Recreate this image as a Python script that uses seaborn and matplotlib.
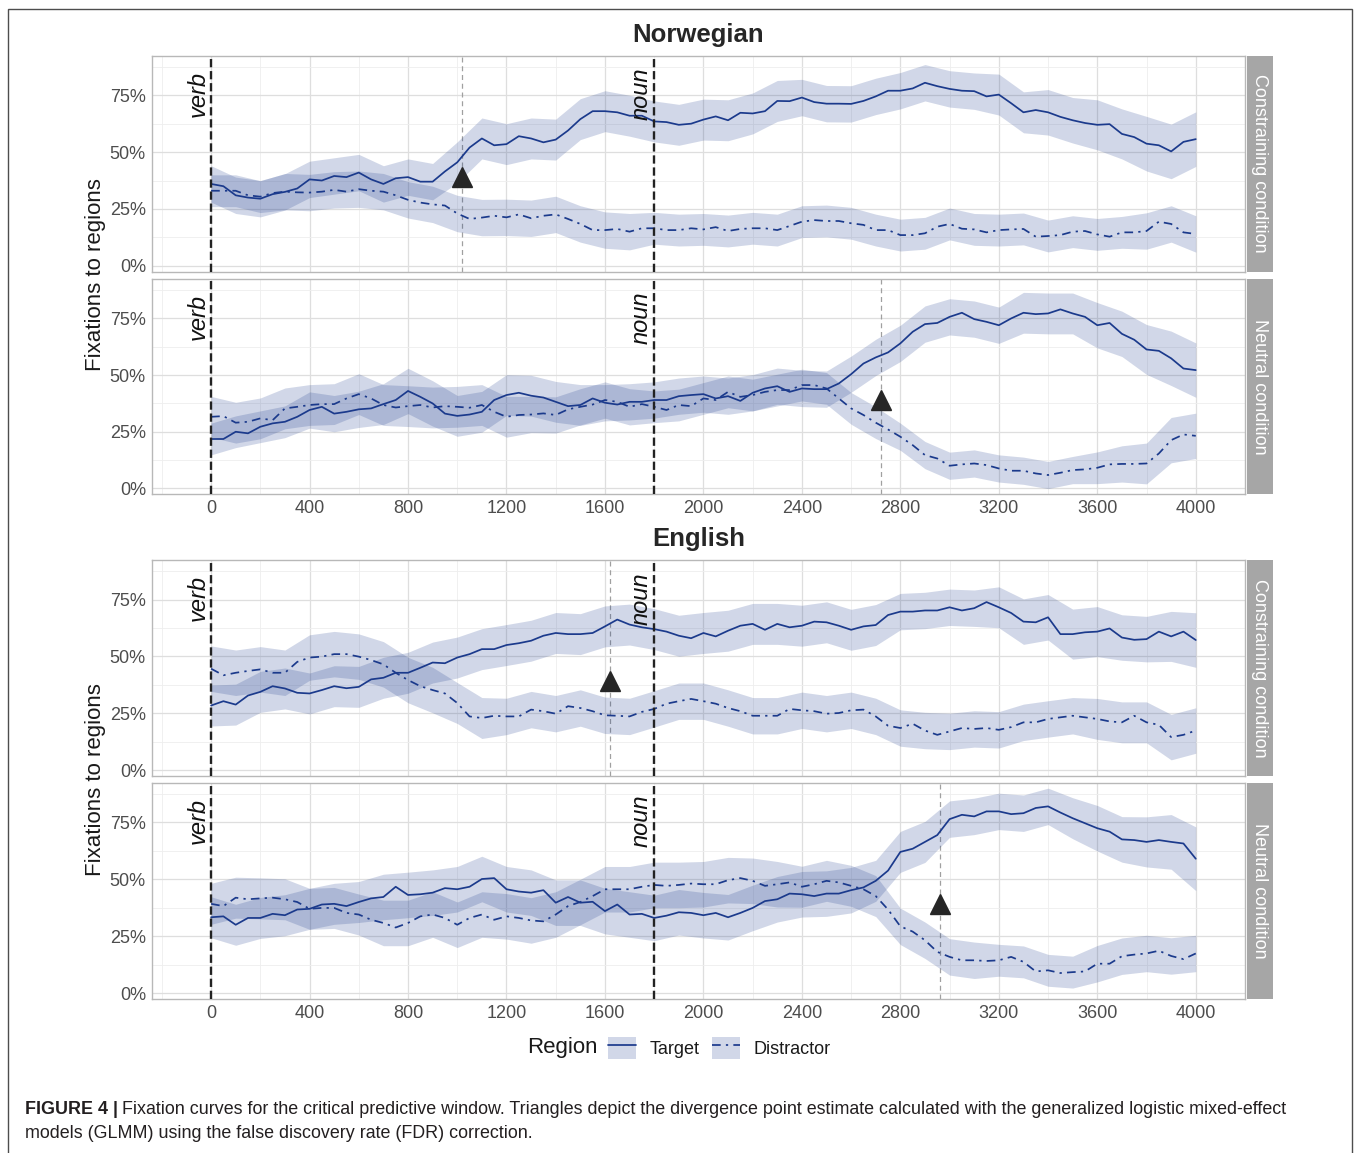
import numpy as np
import pandas as pd
import matplotlib
matplotlib.use("Agg")
import matplotlib.pyplot as plt
import seaborn as sns
from matplotlib.patches import Rectangle, Patch
from matplotlib.lines import Line2D
from matplotlib.ticker import FixedLocator
from matplotlib.legend_handler import HandlerTuple

# ---------------------------------------------------------------- data
# time bins (ms after verb onset) for the fixation curves
TIME = list(range(0, 4001, 50))
# coarser bins used for the confidence ribbons
RIBBON_TIME = list(range(0, 4001, 100))

LANGUAGES = ["Norwegian", "English"]
CONDITIONS = ["Constraining condition", "Neutral condition"]
REGIONS = ["Target", "Distractor"]

# proportion of fixations (%), Norwegian / constraining
NO_CON_TARGET = [36, 35, 31, 30, 29.5, 31.5, 32.5, 34, 38, 37.5, 39.5, 39, 41, 38, 36, 38.5, 39, 37, 37, 41.5,
                 45.5, 52, 56, 53, 53.5, 57, 56, 54.3, 55.5, 59.5, 64.5, 68, 68, 67.5, 66, 66, 63.5, 63.2, 62, 62.5,
                 64.3, 65.7, 64, 67.3, 67, 68, 72.5, 72.4, 74, 72, 71.3, 71.3, 71.2, 72.5, 74.5, 77, 77, 78, 80.5, 79,
                 77.8, 77, 76.8, 74.5, 75.3, 71.5, 67.5, 68.5, 67.5, 65.5, 64, 62.8, 62, 62.3, 58, 56.6, 53.7, 53, 50.3, 54.5,
                 55.7]
NO_CON_DISTRACTOR = [33, 33, 33, 31, 30.4, 32, 32.6, 32.3, 32.2, 32.6, 33.4, 32.6, 33.7, 33, 32.6, 31, 29, 27.8, 27, 26.5,
                     23, 20.6, 21.2, 22, 21.3, 22.6, 20.9, 22, 22.6, 20.6, 18.4, 15.7, 15.7, 16.2, 15, 16.5, 16.5, 15.7, 15.7, 16.5,
                     16, 17, 15.3, 16.2, 16.5, 16.5, 15.7, 17.5, 19.4, 20.1, 19.7, 19.7, 18.7, 18, 15.7, 15.7, 13.5, 13.5, 14.3, 17.2,
                     18.4, 16.3, 16, 14.7, 15.7, 16, 16.2, 12.8, 13.1, 13.5, 15, 15.3, 13.8, 12.8, 14.7, 14.7, 15.3, 19.4, 18.4, 14.7,
                     14]

# Norwegian / neutral
NO_NEU_TARGET = [21.8, 21.8, 25, 24.3, 27.2, 28.7, 29.4, 31.6, 34.6, 36, 33, 33.8, 34.9, 35.3, 37.2, 39, 43, 40.4, 37.5, 33,
                 32, 32.6, 33.8, 39, 41.2, 42.2, 40.9, 40.1, 38.2, 36.3, 36.8, 39.7, 37.8, 37, 38.2, 38.2, 39, 39, 40.7, 41.2,
                 41.6, 39.7, 40.7, 38.6, 42.2, 44.1, 45.1, 42.6, 44.1, 43.8, 43.8, 46.3, 50.4, 55.1, 57.8, 60, 64, 69.1, 72.5, 73,
                 75.7, 77.5, 74.7, 73.5, 72, 75, 77.5, 76.9, 77.2, 79, 77.2, 75.7, 72, 73, 68.2, 65.6, 61.3, 60.7, 57.4, 52.9,
                 52.2]
NO_NEU_DISTRACTOR = [31.6, 31.9, 29, 29.4, 30.9, 30.1, 35.3, 36, 36.8, 37.2, 37.2, 39.7, 41.6, 39.7, 36.8, 35.7, 36.3, 36.8, 35.7, 36.3,
                     36, 35.6, 36.8, 33.8, 31.6, 32.4, 32.6, 33.1, 32.4, 34.9, 36, 37, 39, 38.2, 36, 37.2, 36, 34.6, 36.8, 36.3,
                     39.7, 39, 42.6, 40.4, 41.2, 42.6, 43.4, 43.4, 45.6, 45.6, 44.1, 39.7, 35.3, 32.4, 29, 26, 22.8, 19.1, 14.7, 13.2,
                     10, 10.6, 11, 10.3, 8.8, 7.8, 7.8, 6.6, 5.9, 6.9, 8.1, 8.4, 9.1, 10.6, 10.8, 10.8, 11, 15.4, 21.3, 23.8,
                     23.2]

# English / constraining
EN_CON_TARGET = [28.4, 30.3, 28.8, 32.8, 34.4, 36.9, 35.9, 34, 33.7, 35.2, 36.9, 36, 36.6, 39.9, 40.6, 42.8, 42.8, 45, 47.3, 47,
                 49.5, 51, 53.2, 53.2, 55, 55.8, 56.9, 59.1, 60.3, 59.8, 59.8, 60.3, 63.2, 66.2, 64, 62.8, 62, 60.9, 59.1, 58,
                 60.3, 58.8, 61.3, 63.5, 64.3, 61.7, 64.3, 62.8, 63.5, 65.3, 65, 63.5, 61.7, 63.2, 63.8, 68.2, 69.7, 69.7, 70.2, 70.2,
                 71.6, 70.2, 71.2, 73.9, 71.6, 69.1, 65.3, 65, 67.2, 59.8, 59.8, 60.6, 60.9, 62.3, 58.3, 57.3, 57.6, 60.9, 58.8, 60.9,
                 57.2]
EN_CON_DISTRACTOR = [44.6, 41.7, 42.8, 43.6, 44.3, 42.8, 42.8, 47.6, 49.5, 49.9, 51, 51, 49.9, 48.4, 46.5, 42.8, 39.6, 36.9, 35.2, 33.7,
                     29.5, 23.6, 22.9, 23.9, 23.6, 23.6, 26.6, 25.9, 24.8, 28.1, 27.3, 25.9, 24.1, 23.9, 23.6, 25.6, 26.9, 29.2, 30.3, 31.3,
                     30.3, 29.2, 27.3, 25.9, 23.9, 23.9, 23.9, 26.9, 26.3, 25.9, 24.8, 25.1, 26.3, 26.6, 23.6, 19.5, 18.5, 20.4, 17.4, 15.5,
                     17, 18.5, 18.1, 18.5, 17.7, 18.9, 21, 21, 22.5, 23.2, 23.9, 23.2, 22.5, 21.4, 21, 23.9, 21, 19.9, 14.5, 15.5,
                     17.4]

# English / neutral
EN_NEU_TARGET = [33.3, 33.7, 30, 33, 33, 34.8, 34.2, 36.7, 37, 38.9, 39.2, 38.2, 40, 41.6, 42.2, 46.7, 43.1, 43.4, 44.1, 46.1,
                 45.6, 46.7, 50.1, 50.5, 45.6, 44.6, 44.1, 45.2, 39.7, 42.2, 39.7, 40.1, 36, 38.9, 34.5, 34.8, 33, 34, 35.5, 35.2,
                 34.2, 35.2, 33.3, 35.2, 37.4, 40.4, 41.2, 43.7, 43.4, 42.6, 43.7, 43.7, 45.2, 46.4, 49.3, 53.8, 62, 63.4, 66.4, 69.4,
                 76.4, 78.3, 77.6, 79.8, 79.8, 78.6, 79, 81.3, 82, 79.3, 76.8, 74.6, 72.4, 70.9, 67.5, 67.2, 66.4, 67.2, 66.4, 65.7,
                 59]
EN_NEU_DISTRACTOR = [39.2, 38.2, 41.9, 41.2, 41.6, 41.9, 41.2, 40, 37, 37.4, 37.4, 35.2, 34.5, 32.2, 30.8, 28.8, 30.8, 33.7, 34.5, 33,
                     30, 33, 34.5, 32.2, 33.7, 33, 31.9, 31.5, 34.5, 38.2, 40, 42.6, 45.6, 45.6, 45.6, 46.7, 47.5, 47.1, 47.5, 48.1,
                     47.8, 47.8, 49.6, 50.5, 49.3, 47.1, 47.8, 48.6, 46.7, 47.8, 49.3, 48.6, 47.1, 45.6, 42.6, 36.7, 29.3, 27, 23.2, 18.1,
                     15.9, 14.4, 14.4, 14.1, 14.4, 15.9, 13.7, 9.5, 10, 8.8, 9.2, 9.5, 12.9, 12.9, 16.2, 16.9, 17.4, 18.6, 16.3, 14.9,
                     17.4]

# half-width of the 95% confidence ribbons (percentage points), one value per 100 ms
NO_CON_TARGET_CI = [8, 8, 8, 8, 8, 8, 8, 8, 8, 8, 9, 9, 9, 9, 9, 9, 9, 9, 9, 9,
                    9, 9, 9, 9, 8, 8, 8, 8, 8, 8, 8, 8, 9, 9, 10, 10, 11, 11, 12, 12, 12]
NO_CON_DISTRACTOR_CI = [7, 7, 7, 8, 8, 8, 8, 8, 8, 8, 8, 8, 8, 8, 8, 8, 8, 8, 7, 7,
                        7, 7, 7, 7, 7, 7, 7, 7, 7, 7, 7, 7, 7, 7, 7, 7, 7, 7, 8, 8, 8]
NO_NEU_TARGET_CI = [7, 7, 7, 7, 8, 8, 8, 9, 10, 10, 9, 9, 9, 9, 9, 9, 8, 8, 8, 8,
                    8, 8, 8, 8, 8, 8, 8, 8, 8, 8, 8, 8, 8, 9, 9, 9, 10, 10, 11, 12, 12]
NO_NEU_DISTRACTOR_CI = [9, 9, 9, 9, 9, 9, 9, 9, 9, 9, 9, 9, 9, 8, 8, 8, 8, 8, 7, 7,
                        7, 7, 7, 7, 7, 7, 7, 7, 6, 6, 6, 6, 6, 6, 6, 6, 7, 8, 9, 10, 10]
EN_CON_TARGET_CI = [9, 9, 9, 9, 9, 9, 9, 9, 9, 9, 9, 9, 9, 9, 9, 9, 9, 9, 9, 9,
                    9, 9, 9, 9, 9, 9, 9, 9, 8, 8, 8, 8, 9, 10, 10, 11, 11, 10, 10, 11, 12]
EN_CON_DISTRACTOR_CI = [10, 10, 10, 10, 10, 10, 10, 10, 10, 10, 9, 9, 8, 8, 8, 8, 8, 8, 8, 8,
                        8, 8, 8, 8, 8, 8, 8, 8, 8, 8, 8, 8, 8, 8, 8, 8, 9, 9, 9, 10, 10]
EN_NEU_TARGET_CI = [9, 9, 9, 9, 9, 9, 9, 10, 10, 10, 10, 10, 10, 10, 10, 10, 10, 10, 10, 10,
                    10, 10, 10, 10, 10, 10, 10, 9, 9, 9, 8, 8, 8, 8, 8, 9, 10, 10, 11, 12, 14]
EN_NEU_DISTRACTOR_CI = [9, 9, 9, 9, 9, 9, 9, 10, 10, 10, 10, 10, 10, 10, 10, 10, 10, 10, 10, 10,
                        10, 10, 10, 10, 9, 9, 9, 9, 8, 8, 8, 8, 7, 7, 7, 7, 8, 8, 8, 8, 8]

# divergence point estimates (ms)
DIVERGENCE = {("Norwegian", "Constraining condition"): 1020,
              ("Norwegian", "Neutral condition"): 2720,
              ("English", "Constraining condition"): 1620,
              ("English", "Neutral condition"): 2960}
DIVERGENCE_Y = 0.39

# word onsets (ms)
ONSETS = {"verb": 0, "noun": 1800}

SERIES = {
    ("Norwegian", "Constraining condition"): (NO_CON_TARGET, NO_CON_DISTRACTOR, NO_CON_TARGET_CI, NO_CON_DISTRACTOR_CI),
    ("Norwegian", "Neutral condition"): (NO_NEU_TARGET, NO_NEU_DISTRACTOR, NO_NEU_TARGET_CI, NO_NEU_DISTRACTOR_CI),
    ("English", "Constraining condition"): (EN_CON_TARGET, EN_CON_DISTRACTOR, EN_CON_TARGET_CI, EN_CON_DISTRACTOR_CI),
    ("English", "Neutral condition"): (EN_NEU_TARGET, EN_NEU_DISTRACTOR, EN_NEU_TARGET_CI, EN_NEU_DISTRACTOR_CI),
}

# long-format table for seaborn
rows = []
for (lang, cond), (tgt, dis, _, _) in SERIES.items():
    for region, vals in zip(REGIONS, (tgt, dis)):
        for t, v in zip(TIME, vals):
            rows.append({"Language": lang, "Condition": cond, "Region": region, "Time": t, "Prop": v / 100})
df = pd.DataFrame(rows)

# ---------------------------------------------------------------- style
sns.set_theme(style="whitegrid")
plt.rcParams["font.family"] = ["Liberation Sans", "DejaVu Sans"]

LINE = "#1B3A8C"
DASHES = {"Target": "", "Distractor": (5, 3, 1.3, 3)}
W, H = 1360, 1153

fig = plt.figure(figsize=(W / 100, H / 100), dpi=100)

LEFT, RIGHT = 152, 1245
PANELS = [("Norwegian", "Constraining condition", 55.7, 271.7, False),
          ("Norwegian", "Neutral condition", 279.0, 494.3, True),
          ("English", "Constraining condition", 560.0, 776.0, False),
          ("English", "Neutral condition", 782.7, 999.0, True)]

for lang, cond, top, bottom, show_x in PANELS:
    ax = fig.add_axes([LEFT / W, 1 - bottom / H, (RIGHT - LEFT) / W, (bottom - top) / H])
    tgt, dis, tgt_ci, dis_ci = SERIES[(lang, cond)]

    # confidence ribbons
    for vals, ci in ((tgt, tgt_ci), (dis, dis_ci)):
        centre = np.array(vals[::2]) / 100
        half = np.array(ci) / 100
        ax.fill_between(RIBBON_TIME, centre - half, centre + half, color=LINE, alpha=0.2, lw=0, zorder=2)

    sub = df[(df.Language == lang) & (df.Condition == cond)]
    sns.lineplot(data=sub, x="Time", y="Prop", style="Region", style_order=REGIONS,
                 dashes=DASHES, color=LINE, lw=1.25, errorbar=None, legend=False, ax=ax, zorder=3)

    # word onsets
    for word, t0 in ONSETS.items():
        ax.axvline(t0, color="#222222", lw=1.7, ls=(0, (3.5, 1.6)), zorder=4)
        ax.text(t0 - 6, 0.755, word, rotation=90, ha="right", va="center",
                style="italic", fontsize=17, color="#111111", zorder=5)

    # divergence point
    dp = DIVERGENCE[(lang, cond)]
    ax.axvline(dp, color="#A0A0A0", lw=0.9, ls=(0, (4, 3)), zorder=1.5)
    ax.plot([dp], [DIVERGENCE_Y], marker="^", ms=15, color="#262626", ls="none", zorder=6)

    ax.set_xlim(-240, 4200)
    ax.set_ylim(-0.026, 0.924)
    ax.xaxis.set_major_locator(FixedLocator(list(range(0, 4001, 400))))
    ax.xaxis.set_minor_locator(FixedLocator(list(range(-200, 4200, 400))))
    ax.yaxis.set_major_locator(FixedLocator([0, 0.25, 0.5, 0.75]))
    ax.yaxis.set_minor_locator(FixedLocator([0.125, 0.375, 0.625, 0.875]))
    ax.set_yticklabels(["0%", "25%", "50%", "75%"])
    ax.grid(which="major", color="#DEDEDE", lw=0.9)
    ax.grid(which="minor", color="#EEEEEE", lw=0.6)
    ax.set_axisbelow(True)
    ax.set_xlabel("")
    ax.set_ylabel("")
    for sp in ax.spines.values():
        sp.set_color("#B8B8B8")
        sp.set_linewidth(1.0)
    ax.tick_params(axis="both", which="major", length=2.9, width=0.8, color="#B3B3B3",
                   labelsize=13, labelcolor="#4D4D4D", pad=1.5)
    ax.tick_params(axis="both", which="minor", length=0)
    if not show_x:
        ax.tick_params(axis="x", which="major", length=0, labelbottom=False)

    # facet strip
    ax.add_patch(Rectangle((1.0018, 0), 0.0238, 1, transform=ax.transAxes,
                           clip_on=False, facecolor="#A6A6A6", edgecolor="none"))
    ax.text(1.0137, 0.5, cond, transform=ax.transAxes, rotation=-90, ha="center", va="center",
            fontsize=13, color="white")

# titles and axis labels
for lang, y in (("Norwegian", 35), ("English", 539)):
    fig.text(698.5 / W, 1 - y / H, lang, ha="center", va="center", fontsize=18.5,
             fontweight="bold", color="#262626")
for y in ((55.7 + 494.3) / 2, (560 + 999) / 2):
    fig.text(95 / W, 1 - y / H, "Fixations to regions", rotation=90, ha="center", va="center",
             fontsize=16, color="#1A1A1A")

# legend
fig.text(527 / W, 1 - 1048 / H, "Region", ha="left", va="center", fontsize=16, color="#1A1A1A")
handles = []
for region in REGIONS:
    ls = "-" if region == "Target" else (0, DASHES[region])
    handles.append((Patch(facecolor=LINE, alpha=0.2, edgecolor="none"),
                    Line2D([], [], color=LINE, lw=1.25, ls=ls)))
fig.legend(handles, REGIONS, handler_map={tuple: HandlerTuple(ndivide=1, pad=0)},
           loc="center left", bbox_to_anchor=(608 / W, 1 - 1048 / H), ncol=2, frameon=False,
           fontsize=13, handlelength=1.55, handleheight=1.55, handletextpad=0.75,
           columnspacing=0.7, borderpad=0, borderaxespad=0, labelcolor="#1A1A1A")

# figure frame
fig.add_artist(Rectangle((8 / W, -0.01), (1352 - 8) / W, 1 - 9 / H + 0.01, transform=fig.transFigure,
                         fill=False, edgecolor="#4D4D4D", lw=1.0))

# caption
cap_size = 12.9
head = fig.text(25 / W, 1 - 1110 / H, "FIGURE 4 |", fontweight="bold", fontsize=cap_size,
                ha="left", va="center", color="#231F20")
fig.canvas.draw()
bb = head.get_window_extent(fig.canvas.get_renderer())
fig.text(bb.x1 / W + 4 / W, 1 - 1110 / H,
         "Fixation curves for the critical predictive window. Triangles depict the divergence point estimate "
         "calculated with the generalized logistic mixed-effect",
         fontsize=cap_size, ha="left", va="center", color="#231F20")
fig.text(25 / W, 1 - 1134 / H, "models (GLMM) using the false discovery rate (FDR) correction.",
         fontsize=cap_size, ha="left", va="center", color="#231F20")

fig.savefig("out.png", dpi=100)
